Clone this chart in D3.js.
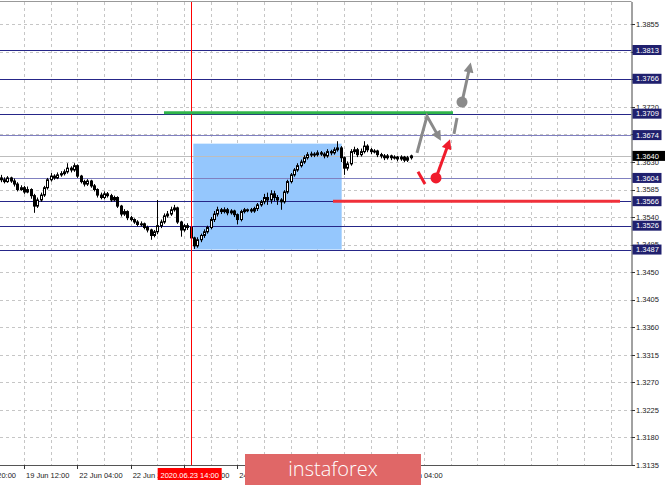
<!DOCTYPE html>
<html><head><meta charset="utf-8">
<script src="https://cdn.jsdelivr.net/npm/d3@7/dist/d3.min.js"></script>
<style>body{margin:0;background:#fff;overflow:hidden}svg{display:block}</style>
</head><body>
<svg id="c" width="665" height="485"></svg>
<script>
// ---- DATA (hourly candles, index 0 .. 123) ----
const opens=[1.3604,1.3601,1.3598,1.3604,1.3599,1.3594,1.3585,1.3588,1.3581,1.3585,
1.3575,1.3558,1.3568,1.3576,1.3588,1.3601,1.3607,1.3604,1.3609,1.3611,
1.3614,1.3620,1.3617,1.3624,1.3607,1.3598,1.3594,1.3599,1.3591,1.3585,
1.3576,1.3572,1.3578,1.3575,1.3568,1.3572,1.3558,1.3545,1.3549,1.3539,
1.3536,1.3532,1.3528,1.3529,1.3523,1.3519,1.3510,1.3516,1.3526,1.3532,
1.3542,1.3545,1.3552,1.3555,1.3532,1.3519,1.3526,1.3523,1.3506,1.3493,
1.3503,1.3510,1.3516,1.3523,1.3536,1.3545,1.3552,1.3549,1.3552,1.3547,
1.3550,1.3544,1.3536,1.3549,1.3552,1.3552,1.3550,1.3554,1.3560,1.3565,
1.3572,1.3568,1.3578,1.3572,1.3568,1.3565,1.3581,1.3598,1.3609,1.3617,
1.3624,1.3630,1.3637,1.3642,1.3643,1.3642,1.3645,1.3643,1.3640,1.3647,
1.3645,1.3650,1.3653,1.3637,1.3620,1.3627,1.3647,1.3650,1.3642,1.3647,
1.3656,1.3650,1.3647,1.3648,1.3642,1.3640,1.3637,1.3640,1.3637,1.3638,
1.3635,1.3638,1.3633,1.3637];
const highs=[1.3609,1.3605,1.3607,1.3606,1.3603,1.3597,1.3592,1.3591,1.3590,1.3587,
1.3578,1.3572,1.3580,1.3591,1.3604,1.3612,1.3610,1.3613,1.3615,1.3618,
1.3628,1.3623,1.3628,1.3626,1.3609,1.3601,1.3602,1.3601,1.3594,1.3587,
1.3580,1.3582,1.3581,1.3578,1.3575,1.3574,1.3560,1.3553,1.3551,1.3542,
1.3538,1.3535,1.3533,1.3531,1.3526,1.3521,1.3519,1.3568,1.3536,1.3546,
1.3550,1.3557,1.3560,1.3557,1.3534,1.3529,1.3530,1.3526,1.3508,1.3507,
1.3513,1.3520,1.3526,1.3540,1.3550,1.3557,1.3555,1.3556,1.3555,1.3553,
1.3552,1.3546,1.3552,1.3555,1.3554,1.3555,1.3557,1.3563,1.3568,1.3578,
1.3580,1.3584,1.3583,1.3576,1.3571,1.3584,1.3601,1.3612,1.3620,1.3628,
1.3634,1.3641,1.3646,1.3647,1.3646,1.3649,1.3648,1.3646,1.3651,1.3650,
1.3654,1.3664,1.3656,1.3639,1.3631,1.3651,1.3655,1.3653,1.3652,1.3664,
1.3659,1.3653,1.3651,1.3650,1.3645,1.3643,1.3643,1.3642,1.3641,1.3640,
1.3641,1.3640,1.3640,1.3642];
const lows=[1.3597,1.3595,1.3596,1.3596,1.3590,1.3582,1.3583,1.3578,1.3579,1.3570,
1.3547,1.3555,1.3565,1.3573,1.3585,1.3598,1.3601,1.3602,1.3606,1.3608,
1.3611,1.3613,1.3614,1.3604,1.3595,1.3590,1.3591,1.3588,1.3582,1.3572,
1.3569,1.3569,1.3572,1.3565,1.3566,1.3555,1.3541,1.3542,1.3535,1.3533,
1.3529,1.3525,1.3525,1.3520,1.3515,1.3503,1.3507,1.3512,1.3522,1.3529,
1.3539,1.3542,1.3549,1.3529,1.3508,1.3516,1.3519,1.3503,1.3488,1.3490,
1.3499,1.3506,1.3513,1.3520,1.3532,1.3541,1.3545,1.3546,1.3543,1.3544,
1.3540,1.3528,1.3533,1.3546,1.3548,1.3547,1.3547,1.3550,1.3557,1.3561,
1.3560,1.3562,1.3566,1.3560,1.3552,1.3562,1.3578,1.3595,1.3606,1.3614,
1.3621,1.3627,1.3634,1.3638,1.3638,1.3639,1.3640,1.3636,1.3637,1.3641,
1.3642,1.3647,1.3630,1.3609,1.3616,1.3624,1.3643,1.3638,1.3639,1.3644,
1.3646,1.3643,1.3644,1.3638,1.3636,1.3633,1.3634,1.3633,1.3634,1.3631,
1.3632,1.3630,1.3630,1.3634];
const closes=[1.3601,1.3598,1.3604,1.3599,1.3594,1.3585,1.3588,1.3581,1.3585,1.3575,
1.3558,1.3568,1.3576,1.3588,1.3601,1.3607,1.3604,1.3609,1.3611,1.3614,
1.3620,1.3617,1.3624,1.3607,1.3598,1.3594,1.3599,1.3591,1.3585,1.3576,
1.3572,1.3578,1.3575,1.3568,1.3572,1.3558,1.3545,1.3549,1.3539,1.3536,
1.3532,1.3528,1.3529,1.3523,1.3519,1.3510,1.3516,1.3526,1.3532,1.3542,
1.3545,1.3552,1.3555,1.3532,1.3519,1.3526,1.3523,1.3506,1.3493,1.3503,
1.3510,1.3516,1.3523,1.3536,1.3545,1.3552,1.3549,1.3552,1.3547,1.3550,
1.3544,1.3536,1.3549,1.3552,1.3552,1.3550,1.3554,1.3560,1.3565,1.3572,
1.3568,1.3578,1.3572,1.3568,1.3565,1.3581,1.3598,1.3609,1.3617,1.3624,
1.3630,1.3637,1.3642,1.3643,1.3642,1.3645,1.3643,1.3640,1.3647,1.3645,
1.3650,1.3653,1.3637,1.3620,1.3627,1.3647,1.3650,1.3642,1.3647,1.3656,
1.3650,1.3647,1.3648,1.3642,1.3640,1.3637,1.3640,1.3637,1.3638,1.3635,
1.3638,1.3633,1.3637,1.3640];

const priceTicks=[1.3855,1.3810,1.3765,1.3720,1.3675,1.3630,1.3585,1.3540,1.3495,1.3450,1.3405,1.3360,1.3315,1.3270,1.3225,1.3180,1.3135];
const timeTickIdx=[-9,7,23,39,55,71,87,103,119];
const timeTickLabels=["18 Jun 20:00","19 Jun 12:00","22 Jun 04:00","22 Jun 20:00","23 Jun 12:00","24 Jun 04:00","24 Jun 20:00","25 Jun 12:00","26 Jun 04:00"];
const levels=[1.3813,1.3766,1.3709,1.3674,1.3604,1.3566,1.3526,1.3487];
const minorLevels=[1.3674,1.3604];
const currentPrice=1.3640;
const markerIdx=57, markerLabel="2020.06.23 14:00";
// drawn objects (index, price)
const zoneBox={i0:57.8,i1:102.3,p0:1.3487,p1:1.3660};
const greenLine={i0:49,i1:135.7,p:1.3709};
const redLine={i0:99.7,i1:185.8,p:1.3566};
const grayPath=[[124.9,1.3645],[127.9,1.3705],[130.9,1.3676]];
const grayDash=[[136.0,1.3676],[136.9,1.3702]];
const grayArrow=[[138.4,1.3728],[140.5,1.3780]];
const redDash=[[125.2,1.3614],[127.3,1.3594]];
const redArrow=[[130.6,1.3604],[134.0,1.3655]];

// ---- LAYOUT ----
const svg=d3.select("#c");
const plotR=631.5, plotT=2, plotB=465;
const x=d3.scaleLinear().domain([0,189]).range([0.67,630.67]);
const y=d3.scaleLinear().domain([1.3135,1.3855]).range([465,24.3]);
const FONT="'Liberation Sans', Arial, sans-serif";

const defs=svg.append("defs");
defs.append("clipPath").attr("id","clip")
  .append("rect").attr("x",0).attr("y",plotT).attr("width",plotR).attr("height",plotB-plotT);
function marker(id,color){
  defs.append("marker").attr("id",id).attr("viewBox","0 0 10 10").attr("refX",2).attr("refY",5)
   .attr("markerWidth",11).attr("markerHeight",10).attr("markerUnits","userSpaceOnUse").attr("orient","auto")
   .append("path").attr("d","M0,0 L10,5 L0,10 z").attr("fill",color);
}
marker("ag","#8a8a8a"); marker("ar","#f01c2c");

const g=svg.append("g").attr("clip-path","url(#clip)");
const snap=v=>Math.round(v)+0.5;
// grid
g.selectAll(".hg").data(priceTicks).join("line")
 .attr("x1",0).attr("x2",plotR).attr("y1",d=>snap(y(d))).attr("y2",d=>snap(y(d)))
 .attr("stroke","#c6c6c6").attr("stroke-dasharray","3,3");
g.selectAll(".vg").data(d3.range(7,190,8)).join("line")
 .attr("y1",plotT).attr("y2",plotB).attr("x1",d=>snap(x(d))).attr("x2",d=>snap(x(d)))
 .attr("stroke","#c6c6c6").attr("stroke-dasharray","3,3");

// zone
g.append("rect").attr("x",x(zoneBox.i0)).attr("width",x(zoneBox.i1)-x(zoneBox.i0))
 .attr("y",y(zoneBox.p1)).attr("height",y(zoneBox.p0)-y(zoneBox.p1)).attr("fill","#95c7fd");

// current price line
g.append("line").attr("x1",0).attr("x2",plotR).attr("y1",snap(y(currentPrice))).attr("y2",snap(y(currentPrice)))
 .attr("stroke","#bdbdbd");

// level lines
g.selectAll(".lv").data(levels).join("line")
 .attr("x1",0).attr("x2",plotR).attr("y1",d=>snap(y(d))).attr("y2",d=>snap(y(d)))
 .attr("stroke",d=>minorLevels.includes(d)?"#8080c0":"#262688").attr("stroke-width",1.2);

// candles
const idx=d3.range(closes.length);
const cg=g.append("g");
cg.selectAll(".wk").data(idx).join("line")
 .attr("x1",i=>snap(x(i))).attr("x2",i=>snap(x(i)))
 .attr("y1",i=>y(highs[i])).attr("y2",i=>y(lows[i])).attr("stroke","#000");
cg.selectAll(".bd").data(idx).join("rect")
 .attr("x",i=>Math.round(x(i))-0.5).attr("width",2)
 .attr("y",i=>Math.min(y(opens[i]),y(closes[i]))).attr("height",i=>Math.max(1,Math.abs(y(opens[i])-y(closes[i]))))
 .attr("fill",i=>closes[i]>=opens[i]?"#fff":"#000").attr("stroke","#000").attr("stroke-width",1);

// marker vertical line (on top of candles)
g.append("line").attr("x1",snap(x(markerIdx))).attr("x2",snap(x(markerIdx)))
 .attr("y1",plotT).attr("y2",plotB).attr("stroke","#ff0000").attr("stroke-width",1);

// green & red horizontal objects
g.append("line").attr("x1",x(greenLine.i0)).attr("x2",x(greenLine.i1)).attr("y1",y(greenLine.p)-1).attr("y2",y(greenLine.p)-1)
 .attr("stroke","#2fb54a").attr("stroke-width",3);
g.append("line").attr("x1",x(redLine.i0)).attr("x2",x(redLine.i1)).attr("y1",y(redLine.p)).attr("y2",y(redLine.p))
 .attr("stroke","#f0303a").attr("stroke-width",3);

// forecast arrows
const ln=d3.line().x(d=>x(d[0])).y(d=>y(d[1]));
g.append("path").attr("d",ln(grayPath)).attr("fill","none").attr("stroke","#8a8a8a").attr("stroke-width",3).attr("marker-end","url(#ag)");
g.append("path").attr("d",ln(grayDash)).attr("fill","none").attr("stroke","#8a8a8a").attr("stroke-width",3);
g.append("path").attr("d",ln(grayArrow)).attr("fill","none").attr("stroke","#8a8a8a").attr("stroke-width",3).attr("marker-end","url(#ag)");
g.append("circle").attr("cx",x(grayArrow[0][0])).attr("cy",y(grayArrow[0][1])).attr("r",5.5).attr("fill","#8a8a8a");
g.append("path").attr("d",ln(redDash)).attr("fill","none").attr("stroke","#f01c2c").attr("stroke-width",3);
g.append("path").attr("d",ln(redArrow)).attr("fill","none").attr("stroke","#f01c2c").attr("stroke-width",3).attr("marker-end","url(#ar)");
g.append("circle").attr("cx",x(redArrow[0][0])).attr("cy",y(redArrow[0][1])).attr("r",5.5).attr("fill","#f01c2c");

// frame / axes lines
svg.append("line").attr("x1",0).attr("x2",plotR).attr("y1",plotB+0.5).attr("y2",plotB+0.5).attr("stroke","#555");
svg.append("line").attr("x1",plotR+0.5).attr("x2",plotR+0.5).attr("y1",plotT).attr("y2",plotB+1).attr("stroke","#444");
svg.append("line").attr("x1",0).attr("x2",plotR).attr("y1",plotT-0.5).attr("y2",plotT-0.5).attr("stroke","#999");

// right axis ticks & labels
svg.selectAll(".pt").data(priceTicks).join("line")
 .attr("x1",plotR).attr("x2",plotR+3.5).attr("y1",d=>snap(y(d))).attr("y2",d=>snap(y(d))).attr("stroke","#333");
svg.selectAll(".pl").data(priceTicks).join("text")
 .attr("x",636).attr("y",d=>y(d)).attr("dy","0.36em").attr("font-family",FONT).attr("font-size",7.5).attr("fill","#222")
 .text(d=>d.toFixed(4));
// level boxes
const lb=svg.selectAll(".lb").data(levels).join("g").attr("transform",d=>`translate(0,${y(d)})`);
lb.append("rect").attr("x",632.5).attr("y",-5).attr("width",29).attr("height",10).attr("fill","#20206e");
lb.append("text").attr("x",636).attr("dy","0.36em").attr("font-family",FONT).attr("font-size",7.5).attr("fill","#fff").text(d=>d.toFixed(4));
const cb=svg.append("g").attr("transform",`translate(0,${y(currentPrice)})`);
cb.append("rect").attr("x",632.5).attr("y",-5).attr("width",33).attr("height",10).attr("fill","#000");
cb.append("text").attr("x",636).attr("dy","0.36em").attr("font-family",FONT).attr("font-size",7.5).attr("fill","#fff").text(currentPrice.toFixed(4));

// bottom axis ticks & labels
svg.selectAll(".tt").data(timeTickIdx).join("line")
 .attr("x1",i=>snap(x(i))).attr("x2",i=>snap(x(i))).attr("y1",plotB).attr("y2",plotB+4).attr("stroke","#333");
svg.selectAll(".tl").data(timeTickIdx).join("text")
 .attr("x",i=>x(i)+2).attr("y",478).attr("font-family",FONT).attr("font-size",7.5).attr("fill","#222")
 .text((d,k)=>timeTickLabels[k]);
// marker label
const mx=x(markerIdx);
svg.append("rect").attr("x",mx-33).attr("y",468).attr("width",64).attr("height",12).attr("fill","#ff0000");
svg.append("text").attr("x",mx-1).attr("y",477.5).attr("text-anchor","middle").attr("font-family",FONT).attr("font-size",7.5).attr("fill","#fff").text(markerLabel);

// banner
svg.append("rect").attr("x",245).attr("y",454).attr("width",176).attr("height",31).attr("fill","#e06767");
svg.append("text").attr("x",333).attr("y",476).attr("text-anchor","middle").attr("font-family","'Open Sans', sans-serif")
 .attr("font-weight",300).attr("font-size",20).attr("fill","#fff").text("instaforex");
</script>
</body></html>
